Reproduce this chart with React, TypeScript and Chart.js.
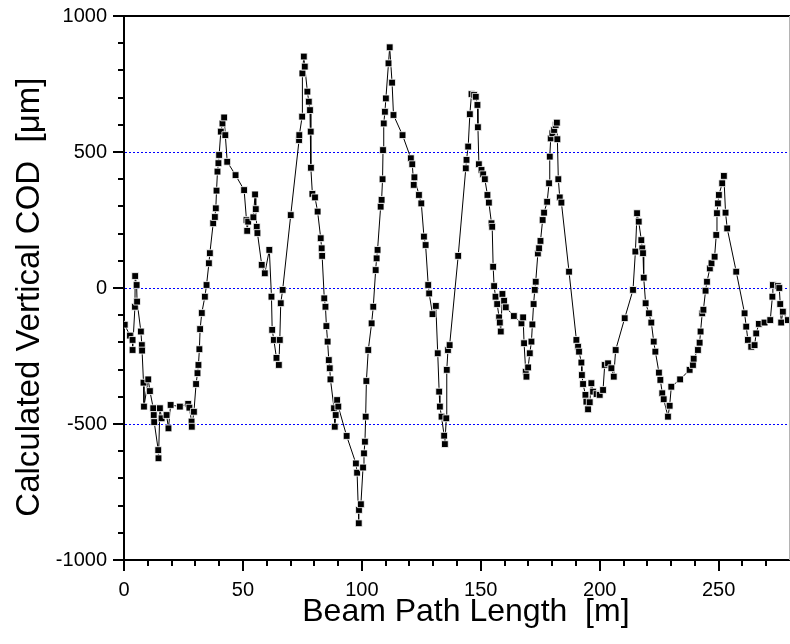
import React, { useEffect, useRef } from "react";
import { Chart, registerables } from "chart.js";

Chart.register(...registerables);

// Beam path length [m]
const pathLength: number[] = [
  0.3, 2.5, 3.6, 3.6, 4.6, 4.7, 5.3, 5.5, 7.1, 7.5, 7.6, 8.2, 8.4, 10.2, 10.9,
  12.3, 12.5, 12.7, 14.4, 14.5, 15.1, 15.8, 17.9, 18.7, 19.6, 23.5, 27.0, 27.5,
  28.4, 28.5, 29.4, 30.3, 30.9, 31.3, 31.7, 32.0, 32.7, 34.0, 34.7, 35.7, 36.1,
  37.5, 38.2, 38.6, 38.9, 39.3, 39.7, 40.0, 40.7, 41.4, 42.1, 42.6, 43.4, 46.9,
  50.5, 51.5, 51.8, 52.2, 54.4, 55.1, 55.4, 55.8, 56.1, 57.9, 59.2, 61.1, 62.0,
  62.3, 63.0, 64.1, 65.1, 65.5, 65.9, 66.7, 70.1, 73.6, 73.7, 74.9, 75.0, 75.6,
  76.0, 77.1, 77.7, 78.2, 78.5, 78.6, 79.2, 80.3, 81.4, 82.7, 83.1, 83.3, 84.2,
  84.7, 85.1, 85.6, 86.1, 86.5, 86.8, 88.3, 88.6, 89.0, 89.6, 90.1, 93.6, 97.5,
  98.0, 98.7, 98.8, 99.6, 100.5, 100.9, 101.3, 101.6, 101.9, 102.7, 104.1, 104.8,
  105.8, 106.2, 106.6, 107.9, 108.3, 108.7, 108.9, 109.2, 109.7, 110.1, 111.2,
  111.7, 112.7, 113.3, 117.1, 120.6, 121.2, 121.8, 122.1, 124.0, 125.0, 126.1,
  126.8, 127.9, 128.3, 129.7, 131.1, 131.9, 132.5, 132.8, 133.5, 134.6, 134.9,
  135.5, 135.7, 136.2, 136.9, 140.5, 143.7, 144.0, 144.7, 145.4, 146.1, 147.2,
  147.9, 148.6, 148.8, 149.2, 150.3, 151.0, 151.7, 152.8, 153.4, 154.5, 154.8,
  155.2, 155.6, 156.2, 156.9, 157.7, 158.0, 158.4, 159.1, 159.8, 160.5, 163.9,
  167.1, 167.8, 168.2, 168.9, 169.2, 169.9, 170.6, 171.3, 171.7, 172.2, 172.7,
  173.1, 174.0, 174.5, 175.1, 176.0, 176.6, 177.9, 178.7, 179.0, 179.4, 180.1,
  180.8, 181.5, 182.0, 182.2, 182.6, 183.2, 183.9, 187.1, 190.2, 190.9, 191.3,
  192.3, 192.5, 193.0, 194.0, 194.4, 195.1, 195.8, 196.5, 197.2, 198.7, 200.0,
  201.4, 202.1, 203.5, 204.9, 205.9, 206.7, 210.5, 214.0, 215.0, 215.7, 216.4,
  217.5, 217.9, 218.2, 218.5, 219.3, 220.7, 221.7, 222.7, 223.4, 224.9, 225.5,
  226.3, 226.9, 228.7, 229.4, 230.1, 233.8, 237.8, 239.2, 239.5, 241.3, 242.0,
  242.4, 243.1, 243.6, 244.5, 245.1, 246.3, 247.0, 248.3, 249.0, 249.3, 249.7,
  250.1, 251.5, 252.2, 252.9, 253.6, 257.4, 260.9, 261.6, 262.3, 263.7, 265.1,
  265.8, 266.9, 269.3, 271.7, 272.6, 272.8, 274.9, 275.5, 275.9, 276.3, 277.0,
  279.1, 281.3,
];

// Calculated vertical COD [µm]
const codValues: number[] = [
  -135, -175, -191, -228, -69, 44, 11, -50, -160, -210, -230, -348, -436, -336, -379,
  -442, -467, -493, -596, -626, -442, -479, -467, -516, -430, -436, -426, -440,
  -491, -510, -455, -353, -313, -283, -225, -151, -92, -32, 11, 91, 128,
  238, 261, 293, 358, 428, 459, 489, 575, 605, 627, 562, 464, 415,
  360, 250, 210, 244, 260, 344, 290, 225, 202, 85, 54, 140, -32,
  -154, -191, -257, -283, -191, -56, -7, 268, 544, 562, 630, 789, 851,
  814, 722, 685, 654, 575, 442, 346, 333, 281, 183, 146, 118, -38,
  -69, -140, -197, -265, -295, -336, -442, -510, -467, -412, -436, -544, -645,
  -679, -865, -816, -795, -660, -608, -565, -473, -342, -228, -130, -69,
  66, 109, 140, 299, 324, 400, 507, 605, 648, 697, 826,
  885, 755, 636, 562, 477, 455, 379, 407, 342, 311, 189,
  158, 11, -20, -96, -66, -240, -381, -436, -473, -543, -574,
  -479, -301, -228, -210, 118, 440, 471, 520, 639, 713, 710,
  703, 673, 591, 455, 434, 418, 400, 342, 314, 238, 225,
  78, 7, -32, -59, -108, -127, -160, -22, -47, -71, -103,
  -130, -108, -203, -308, -326, -292, -240, -197, -134, -59, -7,
  23, 127, 146, 173, 250, 277, 317, 385, 483, 550, 569,
  581, 599, 608, 547, 400, 333, 314, 60, -191, -216, -234,
  -274, -320, -353, -393, -418, -446, -420, -350, -381, -390, -393,
  -375, -283, -277, -295, -326, -228, -111, -7, 134, 275, 244,
  176, 146, 128, 38, -56, -93, -127, -197, -234, -311, -338,
  -387, -409, -473, -433, -363, -336, -301, -283, -260, -228, -201,
  -160, -93, -80, -10, 23, 72, 91, 115, 195, 275, 311,
  342, 385, 412, 277, 219, 60, -93, -142, -191, -216, -210,
  -167, -132, -127, -118, -32, 11, 7, 0, -59, -127, -87,
  -118, -130,
];

const xMin = 0;
const xMax = 280;
const yMin = -1000;
const yMax = 1000;
const xTickValues = [0, 50, 100, 150, 200, 250];
const yTickValues = [-1000, -500, 0, 500, 1000];
const gridValues = [-500, 0, 500];
const xMinorStep = 10;
const yMinorStep = 100;
const xTitle = "  Beam Path Length  [m]";
const yTitle = "Calculated Vertical COD  [\u03bcm]  ";

const FONT = "'Liberation Sans', Arial, Helvetica, sans-serif";

const axisDecor = {
  id: "axisDecor",
  beforeDatasetsDraw(chart: any) {
    const { ctx, chartArea: a, scales } = chart;
    const y = scales.y;
    ctx.save();
    ctx.strokeStyle = "#0000ff";
    ctx.lineWidth = 1;
    ctx.setLineDash([2, 2]);
    ctx.beginPath();
    for (const v of gridValues) {
      const py = Math.round(y.getPixelForValue(v)) + 0.5;
      ctx.moveTo(a.left + 1, py);
      ctx.lineTo(a.right, py);
    }
    ctx.stroke();
    ctx.restore();
  },
  afterDraw(chart: any) {
    const { ctx, chartArea: a, scales } = chart;
    const x = scales.x;
    const y = scales.y;
    ctx.save();
    ctx.setLineDash([]);
    ctx.strokeStyle = "#000";
    ctx.lineWidth = 2;
    ctx.beginPath();
    ctx.moveTo(a.left - 1, a.top);
    ctx.lineTo(a.right, a.top);
    for (let i = 0; xMin + i * xMinorStep < xMax; i++) {
      const v = xMin + i * xMinorStep;
      const px = Math.round(x.getPixelForValue(v));
      const len = v % 50 === 0 ? 11 : 6;
      ctx.moveTo(px, a.bottom);
      ctx.lineTo(px, a.bottom + len);
    }
    for (let i = 0; yMin + i * yMinorStep <= yMax; i++) {
      const v = yMin + i * yMinorStep;
      const py = Math.round(y.getPixelForValue(v));
      const len = v % 500 === 0 ? 11 : 6;
      ctx.moveTo(a.left, py);
      ctx.lineTo(a.left - len, py);
    }
    ctx.stroke();
    ctx.strokeStyle = "#b4b4b4";
    ctx.lineWidth = 1;
    ctx.beginPath();
    ctx.moveTo(a.right - 0.5, a.top);
    ctx.lineTo(a.right - 0.5, a.bottom);
    ctx.stroke();
    ctx.restore();
  },
};

export default function App() {
  const canvasRef = useRef<HTMLCanvasElement | null>(null);

  useEffect(() => {
    const canvas = canvasRef.current;
    if (!canvas) return;
    const points = pathLength.map((v, i) => ({ x: v, y: codValues[i] }));
    const chart = new Chart(canvas, {
      type: "line",
      data: {
        datasets: [
          {
            data: points,
            borderColor: "#000",
            borderWidth: 1,
            tension: 0,
            fill: false,
            pointStyle: "rect",
            pointRadius: 4.8,
            pointBackgroundColor: "#000",
            pointBorderColor: "#fff",
            pointBorderWidth: 0.8,
          },
        ],
      },
      options: {
        animation: false,
        responsive: false,
        devicePixelRatio: 1,
        events: [],
        layout: { autoPadding: false, padding: { top: 16, right: 0, bottom: 0, left: 0 } },
        plugins: {
          legend: { display: false },
          tooltip: { enabled: false },
        },
        scales: {
          x: {
            type: "linear",
            min: xMin,
            max: xMax,
            afterBuildTicks: (s: any) => {
              s.ticks = xTickValues.map((v) => ({ value: v }));
            },
            afterFit: (s: any) => {
              s.height = 84;
              s.paddingLeft = 0;
              s.paddingRight = 0;
              s.paddingTop = 0;
              s.paddingBottom = 0;
            },
            ticks: {
              font: { family: FONT, size: 20 },
              color: "#000",
              padding: 18,
              maxRotation: 0,
              autoSkip: false,
              callback: (v: any) => String(v),
            },
            grid: { display: false, drawTicks: false },
            border: { display: true, color: "#000", width: 2 },
            title: {
              display: true,
              text: xTitle,
              color: "#000",
              font: { family: FONT, size: 32 },
              padding: { top: 0, bottom: 13 },
            },
          },
          y: {
            type: "linear",
            min: yMin,
            max: yMax,
            afterBuildTicks: (s: any) => {
              s.ticks = yTickValues.map((v) => ({ value: v }));
            },
            afterFit: (s: any) => {
              s.width = 124;
              s.paddingLeft = 0;
              s.paddingRight = 0;
              s.paddingTop = 0;
              s.paddingBottom = 0;
            },
            ticks: {
              font: { family: FONT, size: 20 },
              color: "#000",
              padding: 17,
              callback: (v: any) => String(v),
            },
            grid: { display: false, drawTicks: false },
            border: { display: true, color: "#000", width: 2 },
            title: {
              display: true,
              text: yTitle,
              color: "#000",
              font: { family: FONT, size: 33 },
              padding: { top: 10, bottom: 0 },
            },
          },
        },
      },
      plugins: [axisDecor],
    });
    return () => chart.destroy();
  }, []);

  return (
    <div style={{ position: "absolute", left: 0, top: 0, width: 790, height: 644, background: "#fff" }}>
      <canvas ref={canvasRef} width={790} height={644} style={{ display: "block" }} />
    </div>
  );
}
